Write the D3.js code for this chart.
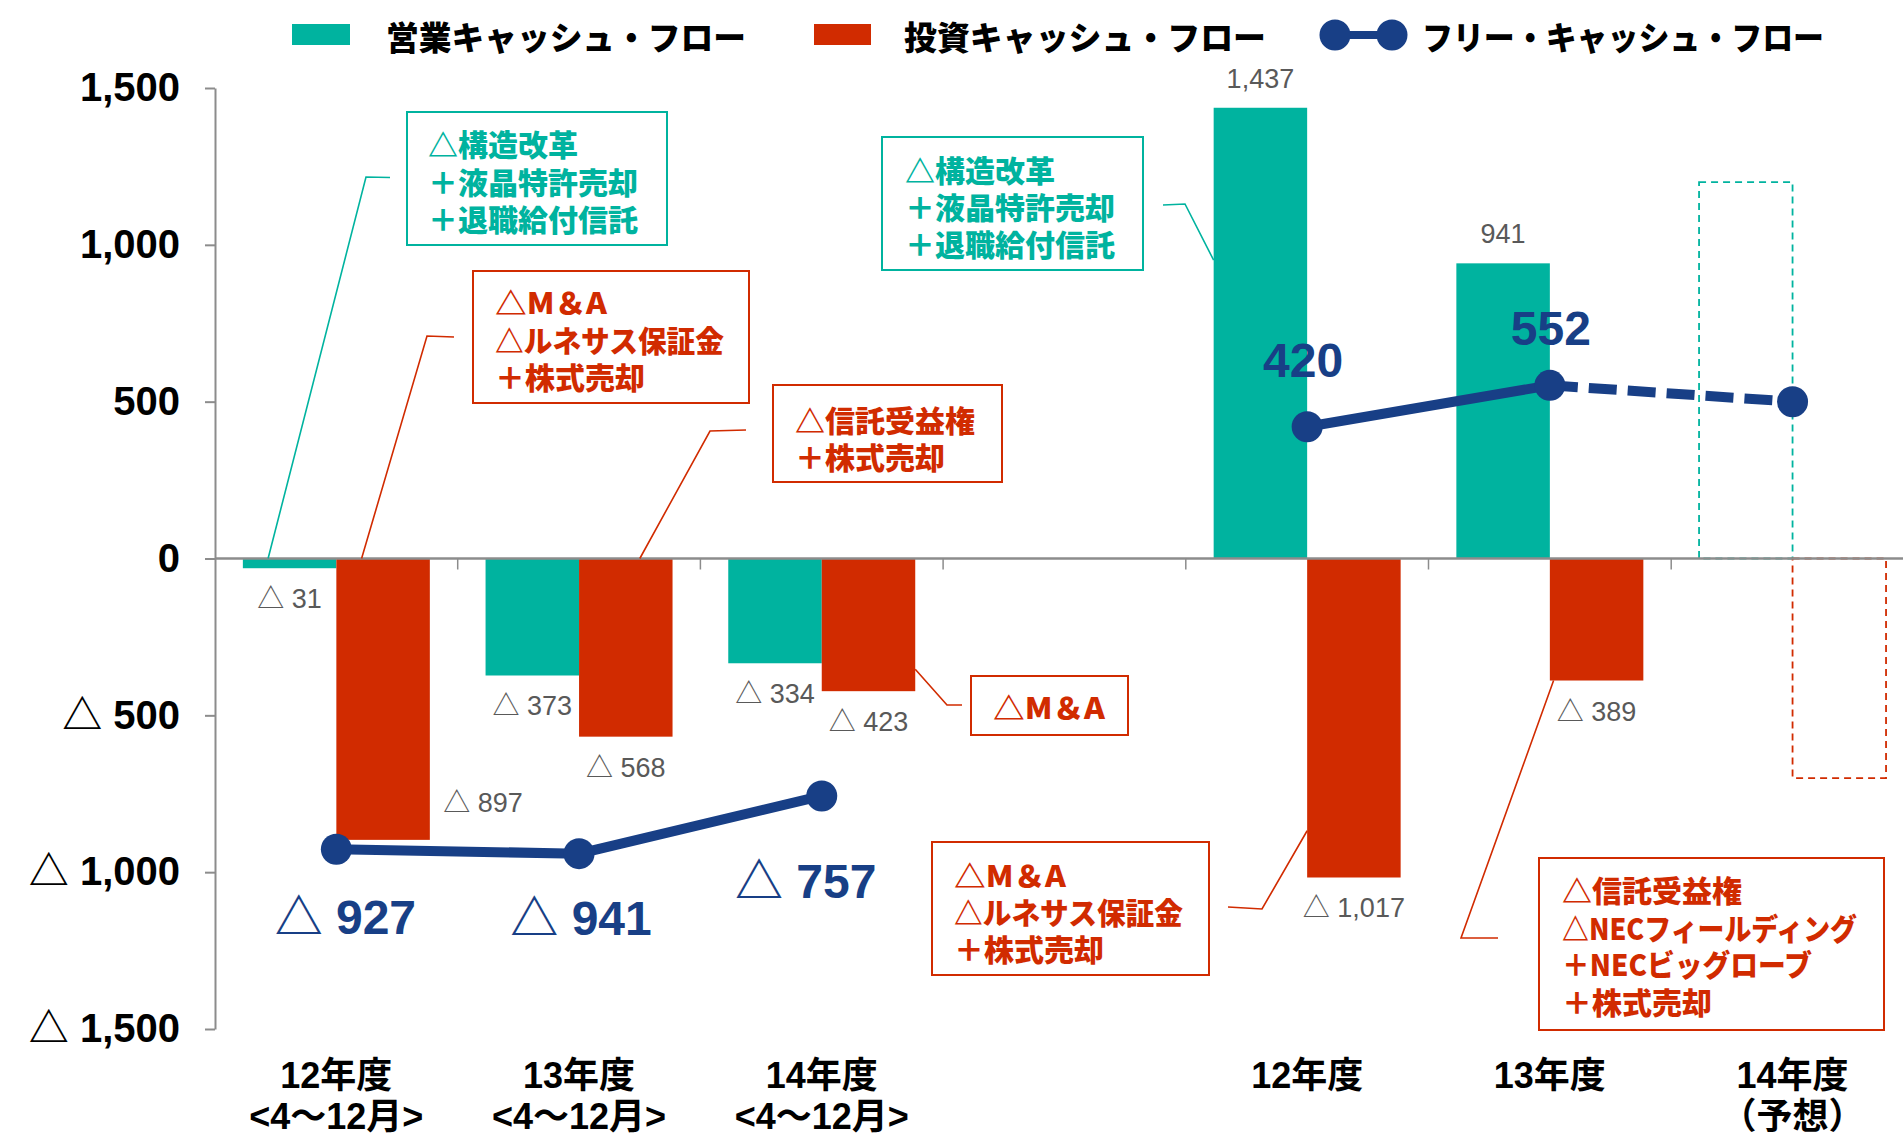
<!DOCTYPE html>
<html><head><meta charset="utf-8">
<script src="https://cdn.jsdelivr.net/npm/d3@7"></script>
<style>body{margin:0;background:#fff;} svg{display:block;}</style>
</head><body><svg id="c" width="1903" height="1135"></svg>
<script>
// ---------------- data ----------------
const categories = ["12年度<4～12月>","13年度<4～12月>","14年度<4～12月>","(空白)","12年度","13年度","14年度（予想）"];
const catLine1 = ["12年度","13年度","14年度","","12年度","13年度","14年度"];
const catLine2 = ["<4～12月>","<4～12月>","<4～12月>","","","","（予想）"];
const operatingCF = [-31, -373, -334, null, 1437, 941, null];
const investingCF = [-897, -568, -423, null, -1017, -389, null];
const operatingForecast = [null, null, null, null, null, null, 1200];
const investingForecast = [null, null, null, null, null, null, -700];
const freeCF = [-927, -941, -757, null, 420, 552, 500];
const freeIsForecast = [false, false, false, false, false, false, true];
const freeShowLabel = [true, true, true, false, true, true, false];
const yTickValues = [-1500, -1000, -500, 0, 500, 1000, 1500];
const seriesNames = ["営業キャッシュ・フロー", "投資キャッシュ・フロー", "フリー・キャッシュ・フロー"];

// ---------------- style / layout ----------------
const TEAL = "#00B39F", RED = "#D12B00", NAVY = "#183F86", GRAY = "#595959", AXIS = "#8C8C8C";
const LATIN = "'Liberation Sans', Arial, 'Noto Sans CJK JP', sans-serif";
const CJK = "'Noto Sans CJK JP', 'Noto Sans CJK SC', sans-serif";

const svg = d3.select("#c");
const plotLeft = 215, band = 242.7;
const x0 = d3.scaleBand().domain(categories).range([plotLeft, plotLeft + band * categories.length]).padding(0);
const x1 = d3.scaleBand().domain(["op", "inv"]).range([0, x0.bandwidth()]).paddingInner(0).paddingOuter(0.298);
const y = d3.scaleLinear().domain([-1500, 1500]).range([1029, 88]);
const bw = x1.bandwidth();
const cx = i => x0(categories[i]) + x0.bandwidth() / 2;
const fmt = d3.format(",");
const lab = v => v < 0 ? "△ " + fmt(-v) : fmt(v);

// y axis
const yAxis = svg.append("g").attr("transform", `translate(${plotLeft},0)`)
  .call(d3.axisLeft(y).tickValues(yTickValues).tickSize(10).tickSizeOuter(0).tickPadding(25)
    .tickFormat(v => v < 0 ? "△ " + fmt(-v) : fmt(v)));
yAxis.select(".domain").attr("stroke", AXIS).attr("stroke-width", 2);
yAxis.selectAll(".tick line").attr("stroke", AXIS).attr("stroke-width", 2);
yAxis.selectAll(".tick text").attr("font-family", LATIN).attr("font-size", 40).attr("font-weight", 700).attr("fill", "#000");

// bars
const gBars = svg.append("g");
function drawBars(vals, key, color) {
  gBars.selectAll(null).data(vals.map((v, i) => ({v, i})).filter(d => d.v != null)).enter()
    .append("rect")
    .attr("x", d => x0(categories[d.i]) + x1(key))
    .attr("width", bw)
    .attr("y", d => y(Math.max(0, d.v)))
    .attr("height", d => Math.abs(y(d.v) - y(0)))
    .attr("fill", color);
}
drawBars(operatingCF, "op", TEAL);
drawBars(investingCF, "inv", RED);
function drawForecast(vals, key, color) {
  gBars.selectAll(null).data(vals.map((v, i) => ({v, i})).filter(d => d.v != null)).enter()
    .append("rect")
    .attr("x", d => x0(categories[d.i]) + x1(key))
    .attr("width", bw)
    .attr("y", d => y(Math.max(0, d.v)))
    .attr("height", d => Math.abs(y(d.v) - y(0)))
    .attr("fill", "none").attr("stroke", color).attr("stroke-width", 1.8).attr("stroke-dasharray", "7,5");
}
drawForecast(operatingForecast, "op", TEAL);
drawForecast(investingForecast, "inv", RED);

// zero line + category boundary ticks
svg.append("line").attr("x1", plotLeft).attr("x2", 1903).attr("y1", y(0)).attr("y2", y(0))
  .attr("stroke", AXIS).attr("stroke-width", 2.5);
svg.selectAll(null).data(categories.slice(1)).enter().append("line")
  .attr("x1", d => x0(d)).attr("x2", d => x0(d)).attr("y1", y(0)).attr("y2", y(0) + 11)
  .attr("stroke", AXIS).attr("stroke-width", 1.5);

// bar value labels
const barLabelAdjust = { "inv-0": {dx: 100, dy: -37} };
function drawBarLabels(vals, key) {
  vals.forEach((v, i) => {
    if (v == null) return;
    const adj = barLabelAdjust[key + "-" + i];
    let xx = x0(categories[i]) + x1(key) + bw / 2;
    let yy = v < 0 ? y(v) + 31 : y(v) - 29;
    if (adj) { xx += adj.dx; yy = y(v) + adj.dy; }
    svg.append("text").attr("x", xx).attr("y", yy).attr("text-anchor", "middle")
      .attr("dominant-baseline", "central").attr("font-family", LATIN).attr("font-size", 27)
      .attr("fill", GRAY).text(lab(v));
  });
}
drawBarLabels(operatingCF, "op");
drawBarLabels(investingCF, "inv");

// free cash flow line
const pts = freeCF.map((v, i) => ({v, i}));
const line = d3.line().x(d => cx(d.i)).y(d => y(d.v));
svg.append("path").attr("d", line.defined(d => d.v != null && !freeIsForecast[d.i])(pts))
  .attr("fill", "none").attr("stroke", NAVY).attr("stroke-width", 10);
const fcPts = pts.filter(d => d.v != null && (freeIsForecast[d.i] || freeIsForecast[d.i + 1]));
svg.append("path").attr("d", d3.line().x(d => cx(d.i)).y(d => y(d.v))(fcPts))
  .attr("fill", "none").attr("stroke", NAVY).attr("stroke-width", 10).attr("stroke-dasharray", "28,11");
svg.selectAll(null).data(pts.filter(d => d.v != null)).enter().append("circle")
  .attr("cx", d => cx(d.i)).attr("cy", d => y(d.v)).attr("r", 15.5).attr("fill", NAVY);

const fcfLabelOffset = [[9, 68], [2, 65], [-16, 86], null, [-4, -66], [1, -57], null];
pts.forEach(d => {
  if (d.v == null || !freeShowLabel[d.i]) return;
  const o = fcfLabelOffset[d.i];
  svg.append("text").attr("x", cx(d.i) + o[0]).attr("y", y(d.v) + o[1])
    .attr("text-anchor", "middle").attr("dominant-baseline", "central")
    .attr("font-family", LATIN).attr("font-size", 48).attr("font-weight", 700)
    .attr("fill", NAVY).text(lab(d.v));
});

// category labels
categories.forEach((c, i) => {
  if (catLine1[i]) svg.append("text").attr("x", cx(i)).attr("y", 1075).attr("text-anchor", "middle")
    .attr("dominant-baseline", "central").attr("font-family", LATIN).attr("font-size", 36)
    .attr("font-weight", 700).attr("fill", "#000").text(catLine1[i]);
  if (catLine2[i]) svg.append("text").attr("x", cx(i)).attr("y", 1116).attr("text-anchor", "middle")
    .attr("dominant-baseline", "central").attr("font-family", LATIN).attr("font-size", 36)
    .attr("font-weight", 700).attr("fill", "#000").text(catLine2[i]);
});

// annotations (layout in px, leader target from scales)
const annotations = [
  {color: TEAL, box: [407, 112, 260, 133], tx: 428, lines: ["△構造改革", "＋液晶特許売却", "＋退職給付信託"], ly: [143, 181, 218],
   elbow: [[390, 177.5], [366, 177]], target: {i: 0, key: "op", frac: 0.27, v: 0}},
  {color: RED, box: [473, 271, 276, 132], tx: 495, lines: ["△M＆A", "△ルネサス保証金", "＋株式売却"], ly: [301, 339, 376],
   fit: [112, 229, null],
   elbow: [[454, 337], [427, 336]], target: {i: 0, key: "inv", frac: 0.27, v: 0}},
  {color: RED, box: [773, 385, 229, 97], tx: 795, lines: ["△信託受益権", "＋株式売却"], ly: [419, 456],
   elbow: [[746, 430], [710, 431]], target: {i: 1, key: "inv", frac: 0.65, v: 0}},
  {color: RED, box: [971, 676, 157, 59], tx: 993, lines: ["△M＆A"], ly: [706], fit: [112],
   elbow: [[962, 705], [947, 705]], target: {i: 2, key: "inv", frac: 1, v: -353}},
  {color: TEAL, box: [882, 137, 261, 133], tx: 905, lines: ["△構造改革", "＋液晶特許売却", "＋退職給付信託"], ly: [169, 206, 243],
   elbow: [[1163, 205], [1185, 204]], target: {i: 4, key: "op", frac: 0, v: 951}},
  {color: RED, box: [932, 842, 277, 133], tx: 954, lines: ["△M＆A", "△ルネサス保証金", "＋株式売却"], ly: [874, 911, 948],
   fit: [112, 229, null],
   elbow: [[1228, 907], [1262, 909]], target: {i: 4, key: "inv", frac: 0, v: -868}},
  {color: RED, box: [1539, 858, 345, 172], tx: 1562, lines: ["△信託受益権", "△NECフィールディング", "＋NECビッグローブ", "＋株式売却"], ly: [889, 927, 963, 1001],
   fit: [null, 295, 250, null],
   elbow: [[1498, 938], [1461, 938]], target: {i: 5, key: "inv", frac: 0.04, v: -389}}
];
annotations.forEach(a => {
  const t = a.target;
  const tp = [x0(categories[t.i]) + x1(t.key) + t.frac * bw, y(t.v)];
  svg.append("path").attr("d", d3.line()([...a.elbow, tp])).attr("fill", "none")
    .attr("stroke", a.color).attr("stroke-width", 1.6);
  svg.append("rect").attr("x", a.box[0]).attr("y", a.box[1]).attr("width", a.box[2]).attr("height", a.box[3])
    .attr("fill", "#fff").attr("stroke", a.color).attr("stroke-width", 2);
  a.lines.forEach((s, k) => {
    const tt = svg.append("text").attr("x", a.tx).attr("y", a.ly[k]).attr("dominant-baseline", "central")
      .attr("font-family", CJK).attr("font-size", 30).attr("font-weight", 900).attr("fill", a.color).text(s);
    if (a.fit && a.fit[k]) tt.attr("textLength", a.fit[k]).attr("lengthAdjust", "spacingAndGlyphs");
  });
});

// legend
const lg = svg.append("g");
lg.append("rect").attr("x", 292).attr("y", 24).attr("width", 58).attr("height", 21).attr("fill", TEAL);
lg.append("rect").attr("x", 814).attr("y", 24).attr("width", 57).attr("height", 21).attr("fill", RED);
lg.append("line").attr("x1", 1335).attr("x2", 1392).attr("y1", 35).attr("y2", 35).attr("stroke", NAVY).attr("stroke-width", 8);
[1335, 1392].forEach(c => lg.append("circle").attr("cx", c).attr("cy", 35).attr("r", 15.5).attr("fill", NAVY));
[[386, seriesNames[0], 360], [904, seriesNames[1], 362], [1422, seriesNames[2], 402]].forEach(([xx, s, w]) =>
  lg.append("text").attr("x", xx).attr("y", 36).attr("dominant-baseline", "central")
    .attr("font-family", CJK).attr("font-size", 33).attr("font-weight", 900).attr("fill", "#000")
    .attr("textLength", w).attr("lengthAdjust", "spacingAndGlyphs").text(s));
</script>
</body></html>
